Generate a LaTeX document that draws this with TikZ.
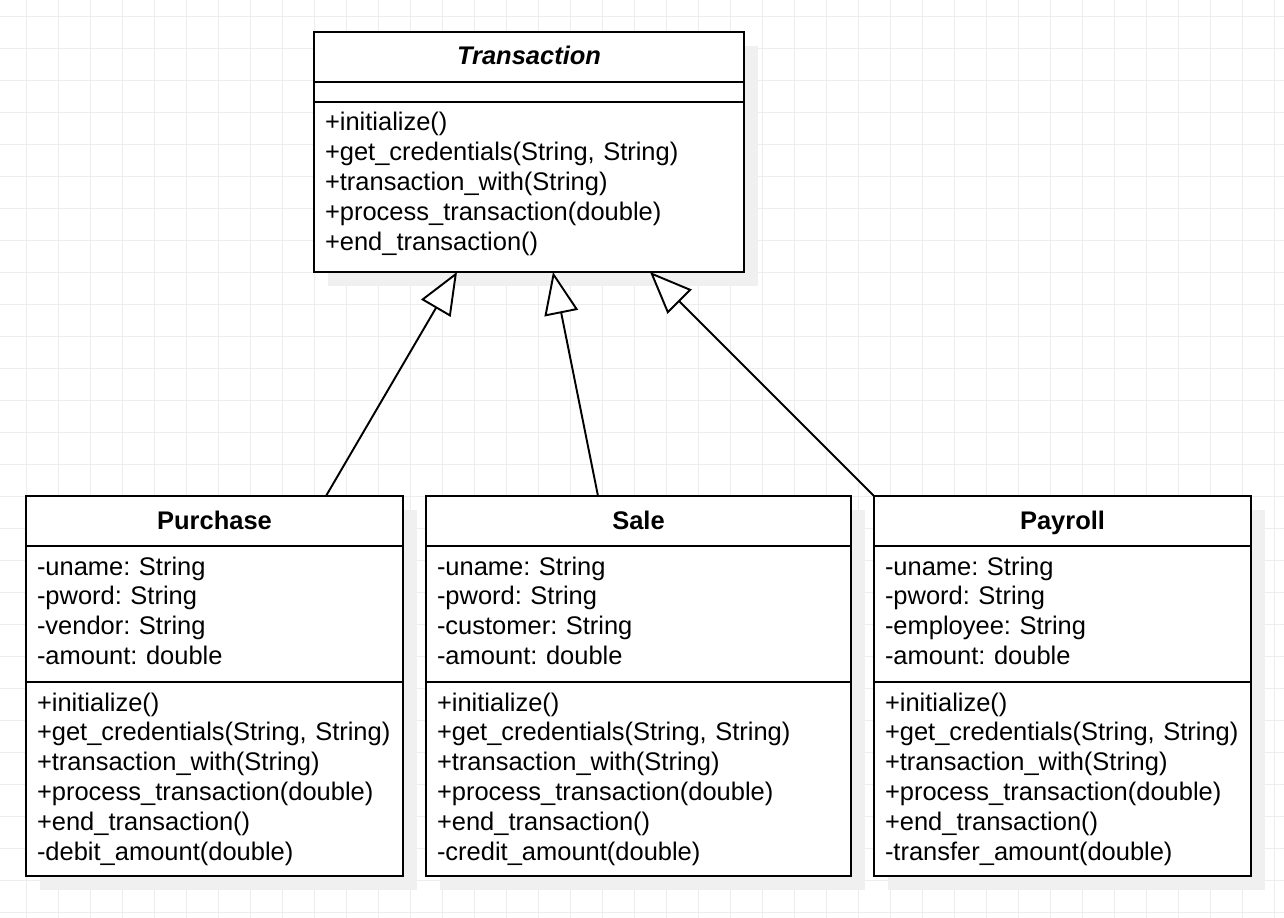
\documentclass[tikz,border=0pt]{standalone}
\usepackage{fontspec}
\setmainfont{Liberation Sans}
\usetikzlibrary{arrows.meta,positioning,shadows}
\definecolor{gridgray}{HTML}{EDEDED}
\definecolor{shadowgray}{HTML}{F0F0F0}
\newcommand{\umlfont}{\fontsize{14.5pt}{17pt}\selectfont\frenchspacing}

\begin{document}
\begin{tikzpicture}[
    box/.style={draw, fill=white, line width=1.1pt, outer sep=0pt, inner xsep=0.22cm, inner ysep=0pt,
        drop shadow={shadow xshift=0.28cm, shadow yshift=-0.28cm, fill=shadowgray, opacity=1}},
    classtitle/.style={box, align=center, font=\umlfont\bfseries, text height=0.66cm, text depth=0.34cm},
    members/.style={box, align=left, font=\umlfont, text height=0.58cm},
    inherits/.style={line width=1.1pt, -{Triangle[fill=white, length=0.84cm, width=0.68cm]}}
]
    \useasboundingbox (0,0) rectangle (25.68,-18.36);
    \clip (0,0) rectangle (25.68,-18.36);

    % Background grid
    \draw[gridgray, line width=0.55pt, step=0.64cm, xshift=0.53cm, yshift=-0.32cm] (-0.64,0.64) grid (25.6,-18.4);

    % Transaction
    \node[classtitle, text width=8.16cm, anchor=north west, font=\umlfont\bfseries\itshape] (trans) at (6.28,-0.64) {Transaction};
    \node[members, text width=8.16cm, text height=0pt, text depth=0.4cm, below=0pt of trans] (transattr) {};
    \node[members, text width=8.16cm, text depth=2.82cm, below=0pt of transattr] (transops) {+initialize()\\
        +get\_credentials(String, String)\\
        +transaction\_with(String)\\
        +process\_transaction(double)\\
        +end\_transaction()};

    % Purchase
    \node[classtitle, text width=7.10cm, anchor=north west] (purch) at (0.52,-9.92) {Purchase};
    \node[members, text width=7.10cm, text depth=2.14cm, below=0pt of purch] (purchattr) {-uname: String\\
        -pword: String\\
        -vendor: String\\
        -amount: double};
    \node[members, text width=7.10cm, text depth=3.30cm, below=0pt of purchattr] (purchops) {+initialize()\\
        +get\_credentials(String, String)\\
        +transaction\_with(String)\\
        +process\_transaction(double)\\
        +end\_transaction()\\
        -debit\_amount(double)};

    % Sale
    \node[classtitle, text width=8.06cm, right=0.46cm of purch] (sale) {Sale};
    \node[members, text width=8.06cm, text depth=2.14cm, below=0pt of sale] (saleattr) {-uname: String\\
        -pword: String\\
        -customer: String\\
        -amount: double};
    \node[members, text width=8.06cm, text depth=3.30cm, below=0pt of saleattr] (saleops) {+initialize()\\
        +get\_credentials(String, String)\\
        +transaction\_with(String)\\
        +process\_transaction(double)\\
        +end\_transaction()\\
        -credit\_amount(double)};

    % Payroll
    \node[classtitle, text width=7.10cm, right=0.46cm of sale] (pay) {Payroll};
    \node[members, text width=7.10cm, text depth=2.14cm, below=0pt of pay] (payattr) {-uname: String\\
        -pword: String\\
        -employee: String\\
        -amount: double};
    \node[members, text width=7.10cm, text depth=3.30cm, below=0pt of payattr] (payops) {+initialize()\\
        +get\_credentials(String, String)\\
        +transaction\_with(String)\\
        +process\_transaction(double)\\
        +end\_transaction()\\
        -transfer\_amount(double)};

    % Generalisation
    \draw[inherits] ([xshift=6.0cm]purch.north west) -- ([xshift=2.86cm]transops.south west);
    \draw[inherits] ([xshift=3.44cm]sale.north west) -- ([xshift=4.78cm]transops.south west);
    \draw[inherits] (pay.north west) -- ([xshift=6.72cm]transops.south west);
\end{tikzpicture}
\end{document}
